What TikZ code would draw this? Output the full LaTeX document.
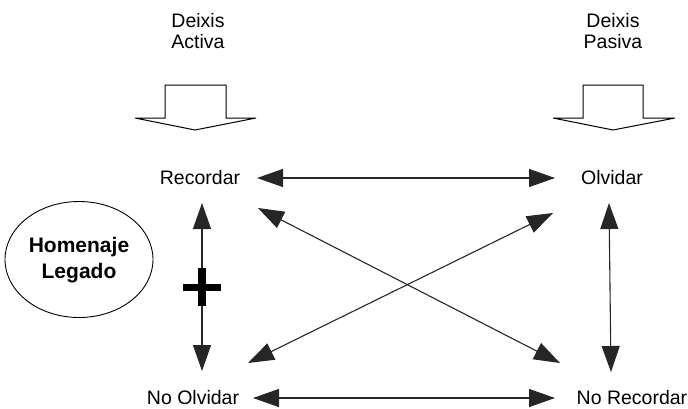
\documentclass[tikz,border=0pt]{standalone}
\usepackage{fontspec}
\setmainfont{Liberation Sans}
\usetikzlibrary{arrows.meta}
\begin{document}
\begin{tikzpicture}[x=1pt,y=-1pt,
  label/.style={inner sep=0pt,font=\fontsize{19.5}{21}\selectfont},
  head/.style={inner sep=0pt,align=center,font=\fontsize{19.5}{20.5}\selectfont},
  dbl/.style={line width=1.1pt,draw=black!85,
    {Triangle[length=26pt,width=18pt]}-{Triangle[length=26pt,width=18pt]}},
  blockarrow/.style={draw=black,line width=1pt,fill=white,line join=miter}]
\path[use as bounding box] (0,0) rectangle (688,408);

% headings
\node[head] (act) at (198,31) {Deixis\\Activa};
\node[head] (pas) at (613,31) {Deixis\\Pasiva};

% downward block arrows
\draw[blockarrow] (165,85) -- (226,85) -- (226,118) -- (256,118) -- (195,130)
  -- (135,118) -- (165,118) -- cycle;
\draw[blockarrow] (583,85) -- (643,85) -- (643,118) -- (675,118) -- (613,130)
  -- (553,118) -- (583,118) -- cycle;

% the four terms
\node[label] (rec)  at (200,178) {Recordar};
\node[label] (olv)  at (612,178) {Olvidar};
\node[label] (nol)  at (193,398) {No Olvidar};
\node[label] (nrec) at (632,398) {No Recordar};

% relations
\draw[dbl] ([shift={(57,0)}]rec.center) -- ([shift={(-57,0)}]olv.center);
\draw[dbl] ([shift={(60,0)}]nol.center) -- ([shift={(-77,0)}]nrec.center);
\draw[dbl] ([shift={(2,25)}]rec.center) -- ([shift={(9,-27)}]nol.center);
\draw[dbl] ([shift={(-3,25)}]olv.center) -- ([shift={(-21,-26)}]nrec.center);
\draw[dbl] ([shift={(58,30)}]rec.center) -- ([shift={(-72,-35)}]nrec.center);
\draw[dbl] ([shift={(55,-35)}]nol.center) -- ([shift={(-59,35)}]olv.center);

% plus mark on the left relation
\fill[black] (183,283.5) rectangle (221,290.5);
\fill[black] (197.5,268) rectangle (205.5,306);

% ellipse
\draw[line width=0.9pt] (79,259.5) ellipse [x radius=74,y radius=58];
\node[inner sep=0pt,align=center,font=\bfseries\fontsize{21}{26}\selectfont]
  (hom) at (79,260) {Homenaje\\Legado};
\end{tikzpicture}
\end{document}
